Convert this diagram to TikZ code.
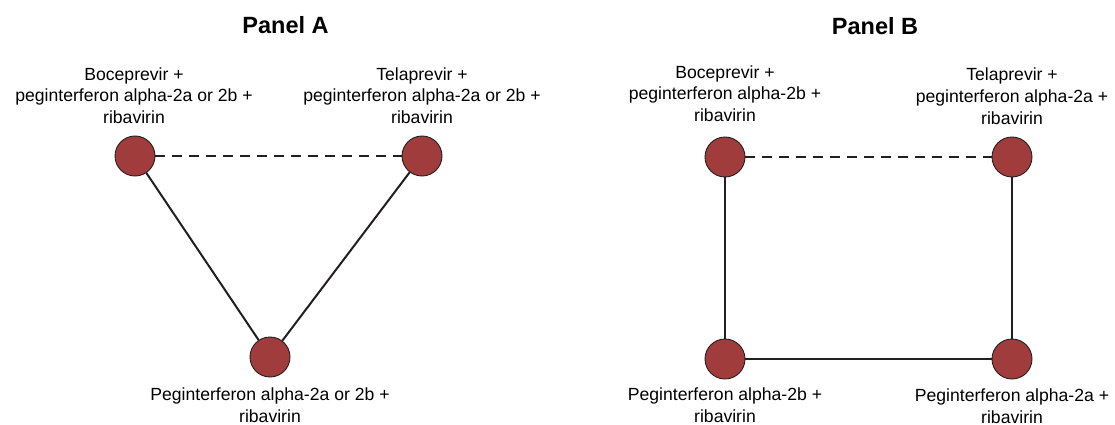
\documentclass[tikz,border=0pt]{standalone}
\usepackage{fontspec}
\setmainfont{Liberation Sans}
\definecolor{nodered}{RGB}{160,60,60}
\definecolor{inkline}{RGB}{35,31,32}
\begin{document}
\begin{tikzpicture}[x=1pt,y=-1pt,
  drug/.style={circle,minimum size=40pt,inner sep=0pt,fill=nodered,draw=inkline,line width=0.9pt},
  lbl/.style={align=center,inner sep=0pt,font=\fontsize{17.6}{21.7}\selectfont,text=black},
  ttl/.style={inner sep=0pt,anchor=base,font=\fontsize{23.5}{28}\selectfont\bfseries},
  solidlink/.style={draw=inkline,line width=2pt},
  dashlink/.style={draw=inkline,line width=2pt,dash pattern=on 10pt off 7pt}]
\useasboundingbox (0,0) rectangle (1115,425);
% Panel A
\node[ttl] (tA) at (285.5,33.5) {Panel A};
\node[drug] (aL) at (135,156) {};
\node[drug] (aR) at (422,156) {};
\node[drug] (aB) at (270,357) {};
\draw[dashlink] (aL) -- (aR);
\draw[solidlink] (aL) -- (aB);
\draw[solidlink] (aR) -- (aB);
\node[lbl,anchor=south] (laL) at (134,124) {Boceprevir +\\peginterferon alpha-2a or 2b +\\ribavirin};
\node[lbl,anchor=south] (laR) at (422,124) {Telaprevir +\\peginterferon alpha-2a or 2b +\\ribavirin};
\node[lbl,anchor=north] (laB) at (270,388) {Peginterferon alpha-2a or 2b +\\ribavirin};
% Panel B
\node[ttl] (tB) at (875,34.3) {Panel B};
\node[drug] (bTL) at (725,157) {};
\node[drug] (bTR) at (1012,157) {};
\node[drug] (bBL) at (725,359) {};
\node[drug] (bBR) at (1012,359) {};
\draw[dashlink] (bTL) -- (bTR);
\draw[solidlink] (bTL) -- (bBL);
\draw[solidlink] (bTR) -- (bBR);
\draw[solidlink] (bBL) -- (bBR);
\node[lbl,anchor=south] (lbTL) at (725,122) {Boceprevir +\\peginterferon alpha-2b +\\ribavirin};
\node[lbl,anchor=south] (lbTR) at (1012,124.5) {Telaprevir +\\peginterferon alpha-2a +\\ribavirin};
\node[lbl,anchor=north] (lbBL) at (725,388) {Peginterferon alpha-2b +\\ribavirin};
\node[lbl,anchor=north] (lbBR) at (1012,388.5) {Peginterferon alpha-2a +\\ribavirin};
\end{tikzpicture}
\end{document}
